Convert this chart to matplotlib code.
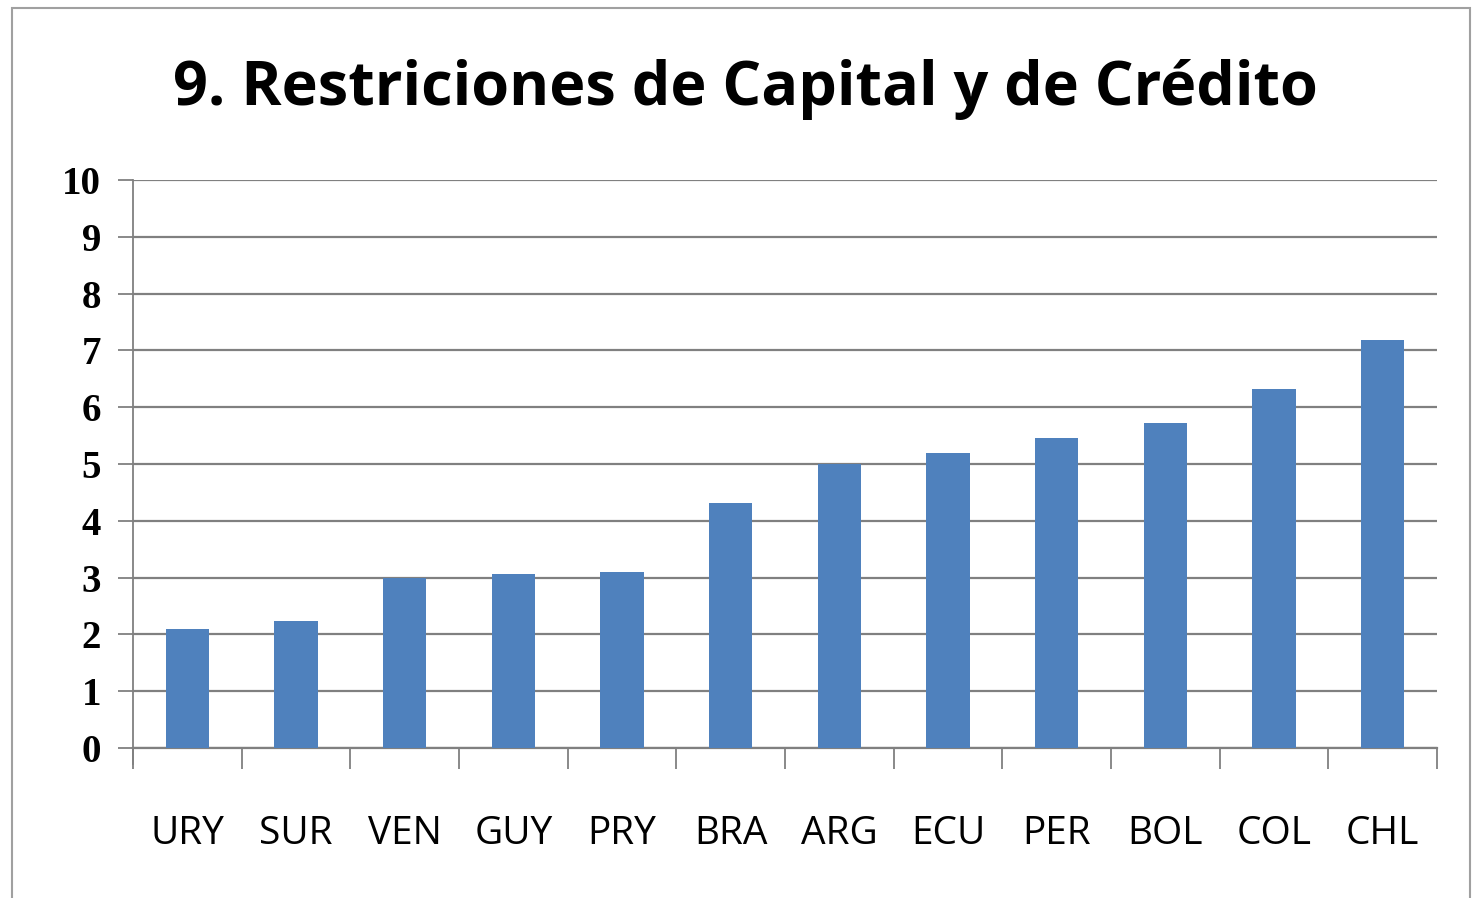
import matplotlib
matplotlib.use('Agg')
import matplotlib.pyplot as plt
from matplotlib.patches import Rectangle
import numpy as np

paises = ['URY', 'SUR', 'VEN', 'GUY', 'PRY', 'BRA', 'ARG', 'ECU', 'PER', 'BOL', 'COL', 'CHL']
valores = [2.10, 2.24, 3.00, 3.06, 3.10, 4.32, 5.00, 5.20, 5.46, 5.72, 6.32, 7.19]
titulo = '9. Restriciones de Capital y de Crédito'

fig = plt.figure(figsize=(14.76, 8.98), dpi=100)
# marco del grafico
fig.patches.append(Rectangle((12 / 1476, -0.05), 1458 / 1476, 1.05 - 8 / 898,
                             transform=fig.transFigure, fill=False,
                             edgecolor='#a0a0a0', linewidth=1.5))

ax = fig.add_axes([133 / 1476, 1 - 748 / 898, (1437 - 133) / 1476, (748 - 180) / 898])
x = np.arange(len(paises))
ax.bar(x, valores, width=0.4, color='#4F81BD', zorder=3)

ax.set_xlim(-0.5, len(paises) - 0.5)
ax.set_ylim(0, 10)
ax.set_yticks(range(0, 11))
ax.set_yticklabels([str(i) for i in range(0, 11)], family='Liberation Serif',
                   fontweight='bold', fontsize=28)
ax.grid(axis='y', color='#808080', linewidth=1.6, zorder=1)

ax.set_xticks(x)
ax.set_xticklabels(paises, family='Open Sans', fontsize=28)
ax.tick_params(axis='x', which='major', length=0, pad=48)
ax.set_xticks(np.arange(-0.5, len(paises)), minor=True)
ax.tick_params(axis='x', which='minor', length=15, width=1.3, color='#808080')
ax.tick_params(axis='y', length=11, width=1.3, color='#808080', pad=12)

for s in ['top', 'right']:
    ax.spines[s].set_visible(False)
ax.spines['bottom'].set_color('#808080')
ax.spines['bottom'].set_linewidth(1.6)
ax.spines['left'].set_color('#808080')
ax.spines['left'].set_linewidth(1.3)
ax.spines['left'].set_bounds(-0.28, 10)

fig.text(745 / 1476, 1 - 90 / 898, titulo, ha='center', va='center',
         family='Open Sans', fontweight='bold', fontsize=44)

fig.savefig('out.png', dpi=100)
